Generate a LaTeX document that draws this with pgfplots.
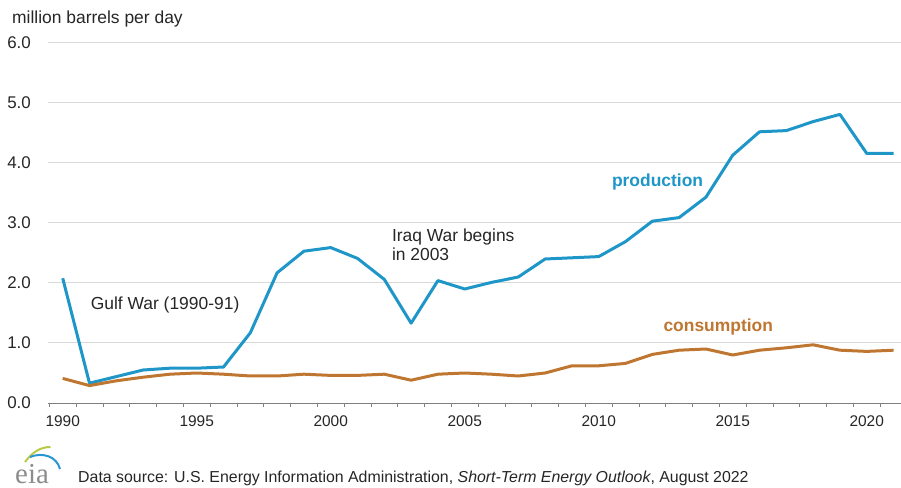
\documentclass[border=0pt]{standalone}
\usepackage{pgfplots}
\pgfplotsset{compat=1.18}
\usepackage{fontspec}
\setmainfont{Liberation Sans}
\newfontfamily\serifl{Liberation Serif}
\definecolor{prod}{RGB}{30,150,200}
\definecolor{cons}{RGB}{190,118,48}
\definecolor{gridc}{RGB}{217,217,217}
\definecolor{axc}{RGB}{128,128,128}
\definecolor{txt}{RGB}{38,38,38}
\definecolor{logog}{RGB}{140,140,140}
\definecolor{logoy}{RGB}{185,200,70}
\definecolor{logob}{RGB}{40,150,210}
\begin{document}
\begin{tikzpicture}
\begin{axis}[
 at={(0,0)}, anchor=south west,
 scale only axis, width=852bp, height=360bp,
 xmin=1989.47, xmax=2021.26, ymin=0, ymax=6,
 axis x line*=bottom, axis y line*=left,
 x axis line style={-, draw=axc, line width=1bp},
 y axis line style={draw=none},
 ytick={0,1,2,3,4,5,6}, yticklabels={0.0,1.0,2.0,3.0,4.0,5.0,6.0},
 ytick style={draw=none},
 ymajorgrids, grid style={gridc, line width=1bp},
 yticklabel style={anchor=east, inner sep=0pt, xshift=-13.5bp, font=\fontsize{17}{20}\selectfont, text=txt},
 xtick={1989.5,1990.5,...,2020.5}, xticklabels={},
 xtick style={draw=axc, line width=0.8bp},
 tick align=outside, major tick length=4bp,
 extra x ticks={1990,1995,2000,2005,2010,2015,2020},
 extra x tick labels={1990,1995,2000,2005,2010,2015,2020},
 extra x tick style={major tick length=0pt, grid=none, xticklabel style={anchor=center, yshift=-17.7bp, inner sep=0pt}},
 xticklabel style={font=\fontsize{15.5}{18}\selectfont, text=txt},
 clip=false,
]
\addplot[prod, line width=3bp, line join=round] coordinates {
(1990,2.08) (1991,0.33) (1992,0.44) (1993,0.55) (1994,0.58) (1995,0.58)
(1996,0.60) (1997,1.17) (1998,2.17) (1999,2.53) (2000,2.59) (2001,2.41)
(2002,2.06) (2003,1.33) (2004,2.04) (2005,1.90) (2006,2.01) (2007,2.10)
(2008,2.40) (2009,2.42) (2010,2.44) (2011,2.69) (2012,3.03) (2013,3.09)
(2014,3.43) (2015,4.13) (2016,4.52) (2017,4.54) (2018,4.69) (2019,4.81)
(2020,4.16) (2021,4.16)
};
\addplot[cons, line width=3bp, line join=round] coordinates {
(1990,0.41) (1991,0.29) (1992,0.37) (1993,0.43) (1994,0.48) (1995,0.50)
(1996,0.48) (1997,0.45) (1998,0.45) (1999,0.48) (2000,0.46) (2001,0.46)
(2002,0.48) (2003,0.38) (2004,0.48) (2005,0.50) (2006,0.48) (2007,0.45)
(2008,0.50) (2009,0.62) (2010,0.62) (2011,0.66) (2012,0.81) (2013,0.88)
(2014,0.90) (2015,0.80) (2016,0.88) (2017,0.92) (2018,0.97) (2019,0.88)
(2020,0.86) (2021,0.88)
};
\node[anchor=west, inner sep=0pt, font=\fontsize{17.5}{20}\selectfont, text=txt] at (axis cs:1991.04,1.63) {Gulf War (1990-91)};
\node[anchor=west, align=left, inner sep=0pt, font=\fontsize{17.5}{19.5}\selectfont, text=txt] at (axis cs:2002.28,2.64) {Iraq War begins\\in 2003};
\node[anchor=west, inner sep=0pt, font=\bfseries\fontsize{17.5}{20}\selectfont, text=prod] at (axis cs:2010.49,3.69) {production};
\node[anchor=west, inner sep=0pt, font=\bfseries\fontsize{17.5}{20}\selectfont, text=cons] at (axis cs:2012.41,1.26) {consumption};
\node[anchor=west, inner sep=0pt, font=\fontsize{17.5}{20}\selectfont, text=txt] at (rel axis cs:0,1) [xshift=-36.5bp, yshift=24bp] {million barrels per day};
\end{axis}
\node[anchor=west, inner sep=0pt, font=\fontsize{15.95}{18}\selectfont, text=txt] at (29.5bp,-75bp) {Data source: U.S. Energy Information Administration, \textit{Short-Term Energy Outlook}, August 2022};
\node[anchor=base west, inner sep=0pt, font=\serifl\fontsize{29}{29}\selectfont, text=logog] at (-33.5bp,-80.5bp) {eia};
\draw[logoy, line width=2bp] (-23.5bp,-59bp) .. controls (-16bp,-49bp) and (-8bp,-44bp) .. (2bp,-44bp);
\draw[logob, line width=2bp] (-18.5bp,-54bp) .. controls (-6bp,-49bp) and (8bp,-53bp) .. (11.5bp,-66bp);
\pgfresetboundingbox
\path (-48.5bp,-85bp) rectangle (852.5bp,403bp);
\end{tikzpicture}
\end{document}
